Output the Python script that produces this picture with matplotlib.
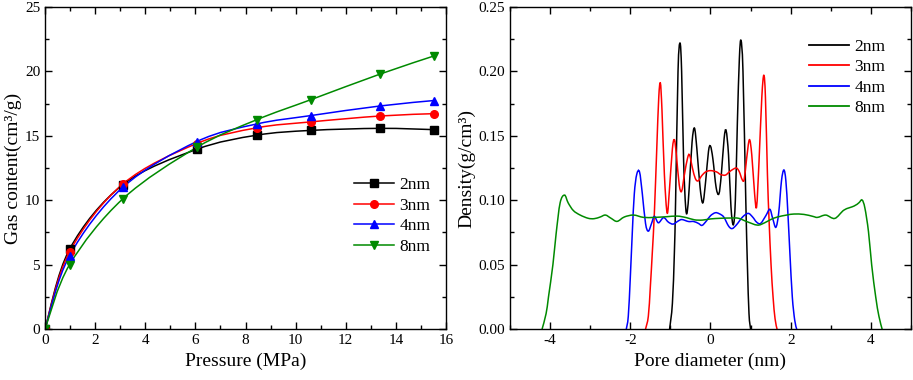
import matplotlib
matplotlib.use("Agg")
import matplotlib.pyplot as plt
import numpy as np
from matplotlib.path import Path
from matplotlib.patches import PathPatch
from matplotlib.lines import Line2D
from matplotlib.ticker import MultipleLocator

plt.rcParams["font.family"] = ["Liberation Serif", "DejaVu Serif"]
plt.rcParams["axes.unicode_minus"] = False

# ---- left panel: gas content vs pressure ----
pressure = [0, 0.98, 3.1, 6.05, 8.45, 10.6, 13.38, 15.52]
gas_2nm = [0, 6.2, 11.2, 13.95, 15.05, 15.42, 15.58, 15.48]
gas_3nm = [0, 6.0, 11.25, 14.4, 15.62, 16.08, 16.54, 16.72]
gas_4nm = [0, 5.7, 11.0, 14.55, 15.92, 16.57, 17.32, 17.74]
gas_8nm = [0, 5.0, 10.1, 14.1, 16.25, 17.8, 19.8, 21.2]

# ---- right panel: density profiles ----
d_2nm = [-1.02, -0.95, -0.90, -0.87, -0.81, -0.76, -0.72, -0.67, -0.62, -0.58,
         -0.53, -0.46, -0.40, -0.34, -0.26, -0.19, -0.12, -0.05, 0.0, 0.06,
         0.14, 0.21, 0.27, 0.34, 0.39, 0.45, 0.51, 0.57, 0.62, 0.67,
         0.72, 0.76, 0.81, 0.88, 0.92, 0.96, 1.0]
rho_2nm = [0, 0.02, 0.06, 0.10, 0.20, 0.222, 0.20, 0.13, 0.095, 0.091,
           0.11, 0.145, 0.156, 0.14, 0.11, 0.098, 0.115, 0.138, 0.142, 0.132,
           0.11, 0.105, 0.12, 0.148, 0.154, 0.135, 0.095, 0.081, 0.10, 0.16,
           0.21, 0.224, 0.20, 0.10, 0.05, 0.012, 0]

d_3nm = [-1.62, -1.55, -1.50, -1.45, -1.40, -1.34, -1.29, -1.25, -1.21, -1.15,
         -1.08, -1.02, -0.95, -0.90, -0.85, -0.78, -0.72, -0.65, -0.57, -0.52,
         -0.45, -0.38, -0.31, -0.22, -0.12, 0.0, 0.15, 0.25, 0.37, 0.47,
         0.56, 0.65, 0.72, 0.79, 0.84, 0.90, 0.97, 1.03, 1.10, 1.15,
         1.21, 1.28, 1.33, 1.37, 1.42, 1.46, 1.51, 1.56, 1.61, 1.66]
rho_3nm = [0, 0.01, 0.033, 0.06, 0.09, 0.14, 0.18, 0.191, 0.17, 0.12,
           0.09, 0.11, 0.14, 0.147, 0.135, 0.112, 0.107, 0.12, 0.133, 0.135,
           0.125, 0.117, 0.115, 0.119, 0.122, 0.123, 0.122, 0.12, 0.1195, 0.122,
           0.124, 0.125, 0.122, 0.116, 0.116, 0.132, 0.147, 0.135, 0.105, 0.095,
           0.13, 0.18, 0.197, 0.18, 0.12, 0.085, 0.05, 0.025, 0.008, 0]

d_4nm = [-2.10, -2.05, -2.00, -1.95, -1.90, -1.84, -1.77, -1.70, -1.62, -1.55,
         -1.47, -1.40, -1.30, -1.17, -1.05, -0.93, -0.80, -0.71, -0.55, -0.42,
         -0.30, -0.21, -0.10, 0.0, 0.12, 0.22, 0.33, 0.45, 0.54, 0.65,
         0.80, 0.94, 1.05, 1.15, 1.25, 1.38, 1.48, 1.55, 1.63, 1.70,
         1.77, 1.83, 1.88, 1.93, 1.98, 2.04, 2.10, 2.15]
rho_4nm = [0, 0.01, 0.04, 0.075, 0.105, 0.12, 0.122, 0.105, 0.082, 0.076,
           0.082, 0.0875, 0.0825, 0.0865, 0.083, 0.0815, 0.084, 0.085, 0.0835, 0.0835,
           0.082, 0.0805, 0.084, 0.088, 0.0903, 0.0895, 0.087, 0.080, 0.078, 0.081,
           0.087, 0.0898, 0.087, 0.083, 0.082, 0.088, 0.093, 0.086, 0.079, 0.09,
           0.115, 0.1235, 0.115, 0.09, 0.059, 0.025, 0.007, 0]

d_8nm = [-4.20, -4.10, -4.04, -3.93, -3.85, -3.75, -3.64, -3.55, -3.42, -3.25,
         -3.05, -2.90, -2.75, -2.62, -2.48, -2.33, -2.15, -1.92, -1.67, -1.40,
         -1.10, -0.83, -0.60, -0.40, -0.20, 0.0, 0.25, 0.50, 0.70, 0.90,
         1.17, 1.35, 1.50, 1.67, 1.90, 2.08, 2.33, 2.55, 2.67, 2.875,
         3.10, 3.33, 3.58, 3.70, 3.78, 3.85, 3.94, 4.02, 4.12, 4.20, 4.28]
rho_8nm = [0, 0.012, 0.025, 0.05, 0.074, 0.098, 0.104, 0.098, 0.092, 0.0885,
           0.086, 0.0857, 0.087, 0.0885, 0.086, 0.0836, 0.087, 0.0885, 0.0867, 0.0867,
           0.0872, 0.0877, 0.0865, 0.0848, 0.0846, 0.0855, 0.086, 0.0862, 0.086, 0.0835,
           0.0807, 0.0825, 0.085, 0.087, 0.0885, 0.0893, 0.089, 0.0875, 0.0867, 0.0885,
           0.0859, 0.0924, 0.0955, 0.098, 0.1002, 0.094, 0.0756, 0.0497, 0.025, 0.01, 0]

labels = ["2nm", "3nm", "4nm", "8nm"]
colors = ["black", "#ff0000", "#0000ff", "#008a00"]
markers = ["s", "o", "^", "v"]


def smooth_path(x, y):
    """Catmull-Rom curve through the points, drawn as cubic Bezier segments."""
    pts = np.column_stack([x, y]).astype(float)
    n = len(pts)
    verts = [pts[0]]
    codes = [Path.MOVETO]
    for i in range(n - 1):
        p0 = pts[i - 1] if i > 0 else pts[i]
        p1 = pts[i]
        p2 = pts[i + 1]
        p3 = pts[i + 2] if i + 2 < n else pts[i + 1]
        verts += [p1 + (p2 - p0) / 6, p2 - (p3 - p1) / 6, p2]
        codes += [Path.CURVE4] * 3
    return Path(verts, codes)


def style_axes(ax):
    ax.tick_params(which="both", direction="in", top=True, right=True, labelsize=11)
    ax.tick_params(which="major", length=5, width=1)
    ax.tick_params(which="minor", length=3, width=1)
    for s in ax.spines.values():
        s.set_linewidth(1.0)


fig = plt.figure(figsize=(9.13, 3.8), dpi=100)
ax1 = fig.add_axes([0.0493, 0.134, 0.4392, 0.8476])
ax2 = fig.add_axes([0.5586, 0.134, 0.4392, 0.8476])

# left panel
gas = [gas_2nm, gas_3nm, gas_4nm, gas_8nm]
handles = []
for g, c, m, lab in zip(gas, colors, markers, labels):
    ax1.add_patch(PathPatch(smooth_path(pressure, g), fill=False, edgecolor=c, lw=1.1))
    ax1.plot(pressure, g, ls="none", marker=m, color=c, markersize=5.5)
    handles.append(Line2D([], [], color=c, lw=1.1, marker=m, markersize=5.5, label=lab))

ax1.set_xlim(0, 16)
ax1.set_ylim(0, 25)
ax1.xaxis.set_major_locator(MultipleLocator(2))
ax1.xaxis.set_minor_locator(MultipleLocator(1))
ax1.yaxis.set_major_locator(MultipleLocator(5))
ax1.yaxis.set_minor_locator(MultipleLocator(2.5))
ax1.set_xlabel("Pressure (MPa)", fontsize=14)
ax1.set_ylabel("Gas content(cm³/g)", fontsize=14, labelpad=2)
style_axes(ax1)
ax1.legend(handles=handles, loc="upper right", bbox_to_anchor=(1.0, 0.52), frameon=False,
           fontsize=12.5, handlelength=2.3, handletextpad=0.3, labelspacing=0.25)

# right panel
dens_x = [d_2nm, d_3nm, d_4nm, d_8nm]
dens_y = [rho_2nm, rho_3nm, rho_4nm, rho_8nm]
handles2 = []
for dx, dy, c, lab in zip(dens_x, dens_y, colors, labels):
    ax2.add_patch(PathPatch(smooth_path(dx, dy), fill=False, edgecolor=c, lw=1.1))
    handles2.append(Line2D([], [], color=c, lw=1.3, label=lab))

ax2.set_xlim(-5, 5)
ax2.set_ylim(0, 0.25)
ax2.xaxis.set_major_locator(MultipleLocator(2))
ax2.xaxis.set_minor_locator(MultipleLocator(1))
ax2.yaxis.set_major_locator(MultipleLocator(0.05))
ax2.yaxis.set_minor_locator(MultipleLocator(0.025))
ax2.yaxis.set_major_formatter(plt.FormatStrFormatter("%.2f"))
ax2.set_xlabel("Pore diameter (nm)", fontsize=14)
ax2.set_ylabel("Density(g/cm³)", fontsize=14, labelpad=2)
style_axes(ax2)
ax2.legend(handles=handles2, loc="upper right", bbox_to_anchor=(0.975, 0.95), frameon=False,
           fontsize=12.5, handlelength=2.3, handletextpad=0.3, labelspacing=0.25)

fig.savefig("out.png", dpi=100)
